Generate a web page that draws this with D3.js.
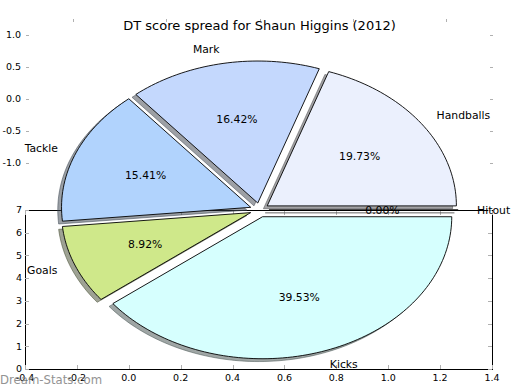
<!DOCTYPE html>
<html>
<head>
<meta charset="utf-8">
<script src="https://cdn.jsdelivr.net/npm/d3@7"></script>
<style>
body{margin:0;background:#fff;}
text{font-family:"DejaVu Sans",sans-serif;fill:#000;}
</style>
</head>
<body>
<script>
var w=520;
var h=390;

// pie data
var labels=["Handballs","Mark","Tackle","Goals","Kicks","Hitout"];
var shares=[19.73,16.42,15.41,8.92,39.53,0.00];
var colors=["#ebf0fd","#c4d8fd","#b1d3fd","#cfe88a","#d6fffe","#ffffff"];

// axis ticks
var botXTicks=[-0.4,-0.2,0.0,0.2,0.4,0.6,0.8,1.0,1.2,1.4];
var botYTicks=[0,1,2,3,4,5,6,7];
var topXTicks=[-1,-0.5,0,0.5,1];
var topYTicks=[1.0,0.5,0.0,-0.5,-1.0];

var title="DT score spread for Shaun Higgins (2012)";
var explode=0.05;

var svg=d3.select("body").append("svg")
	.attr("width",w)
	.attr("height",h);

var tickCol="#b0b0b0";

// lower axes (bar axes left behind)
var bx=d3.scaleLinear().domain([-0.4,1.4]).range([25,492]);
var by=d3.scaleLinear().domain([0,7]).range([369,210]);

// upper axes
var tx=d3.scaleLinear().domain([-1.25,1.25]).range([26,493]);
var ty=d3.scaleLinear().domain([-1.25,1.25]).range([179,19]);

// pie coords (stretched)
var px=d3.scaleLinear().domain([-1.25,1.25]).range([23,496]);
var py=d3.scaleLinear().domain([-1,1]).range([352,68]);

var g0=svg.append("g");

g0.append("rect")
	.attr("x",bx(-0.4)+0.5).attr("y",by(7)+0.5)
	.attr("width",bx(1.4)-bx(-0.4)).attr("height",by(0)-by(7))
	.attr("fill","none").attr("stroke","#000").attr("stroke-width",1);

botXTicks.forEach(function(t){
	var x=Math.round(bx(t))+0.5;
	g0.append("line").attr("x1",x).attr("x2",x).attr("y1",by(0)).attr("y2",by(0)-4).attr("stroke",tickCol);
	g0.append("line").attr("x1",x).attr("x2",x).attr("y1",by(7)+1).attr("y2",by(7)+5).attr("stroke",tickCol);
	g0.append("text").attr("x",bx(t)).attr("y",378).attr("dy","0.35em")
		.attr("text-anchor","middle").attr("font-size","9.5px").text(t.toFixed(1));
});
botYTicks.forEach(function(t){
	var y=Math.round(by(t))+0.5;
	g0.append("line").attr("x1",bx(-0.4)).attr("x2",bx(-0.4)+4).attr("y1",y).attr("y2",y).attr("stroke",tickCol);
	g0.append("line").attr("x1",bx(1.4)).attr("x2",bx(1.4)-4).attr("y1",y).attr("y2",y).attr("stroke",tickCol);
	g0.append("text").attr("x",22).attr("y",by(t)).attr("dy","0.35em")
		.attr("text-anchor","end").attr("font-size","9.5px").text(t);
});

topXTicks.forEach(function(t){
	var x=Math.round(tx(t))+0.5;
	g0.append("line").attr("x1",x).attr("x2",x).attr("y1",19).attr("y2",22).attr("stroke",tickCol);
});
topYTicks.forEach(function(t){
	var y=Math.round(ty(t))+0.5;
	g0.append("line").attr("x1",26).attr("x2",29).attr("y1",y).attr("y2",y).attr("stroke",tickCol);
	g0.append("line").attr("x1",490).attr("x2",493).attr("y1",y).attr("y2",y).attr("stroke",tickCol);
	g0.append("text").attr("x",21).attr("y",ty(t)).attr("dy","0.35em")
		.attr("text-anchor","end").attr("font-size","9.5px").text(t.toFixed(1));
});

// pie
var total=d3.sum(shares);
var cum=d3.cumsum(shares);
var slices=shares.map(function(v,i){
	var t2=360*cum[i]/total, t1=360*(cum[i]-v)/total;
	var mid=(t1+t2)/2*Math.PI/180;
	return {label:labels[i],value:v,color:colors[i],t1:t1,t2:t2,
		ox:explode*Math.cos(mid),oy:explode*Math.sin(mid),mid:mid};
});

function wedgePts(d,dx,dy){
	var pts=[[d.ox+dx,d.oy+dy]];
	var n=Math.max(2,Math.ceil((d.t2-d.t1)/1.5));
	d3.range(n+1).forEach(function(k){
		var a=(d.t1+(d.t2-d.t1)*k/n)*Math.PI/180;
		pts.push([d.ox+dx+Math.cos(a),d.oy+dy+Math.sin(a)]);
	});
	return pts;
}
var line=d3.line().x(function(p){return px(p[0]);}).y(function(p){return py(p[1]);});

var shadows=svg.append("g");
var wedges=svg.append("g");
var texts=svg.append("g");

slices.forEach(function(d){
	var c=d3.rgb(d.color);
	var sc="rgba("+Math.round(c.r*0.3)+","+Math.round(c.g*0.3)+","+Math.round(c.b*0.3)+",0.5)";
	shadows.append("path").attr("d",line(wedgePts(d,-0.02,-0.02))+"Z")
		.attr("fill",sc).attr("stroke",sc).attr("stroke-width",1);
	wedges.append("path").attr("d",line(wedgePts(d,0,0))+"Z")
		.attr("fill",d.color).attr("stroke","#000").attr("stroke-width",0.9)
		.attr("stroke-linejoin","miter");

	var lx=d.ox+1.1*Math.cos(d.mid), ly=d.oy+1.1*Math.sin(d.mid);
	texts.append("text").attr("x",px(lx)).attr("y",py(ly)).attr("dy","0.35em")
		.attr("text-anchor",lx>0?"start":"end").attr("font-size","10.8px").text(d.label);
	var qx=d.ox+0.6*Math.cos(d.mid), qy=d.oy+0.6*Math.sin(d.mid);
	texts.append("text").attr("x",px(qx)).attr("y",py(qy)).attr("dy","0.35em")
		.attr("text-anchor","middle").attr("font-size","10.8px").text(d.value.toFixed(2)+"%");
});

svg.append("text").attr("x",259.5).attr("y",25).attr("dy","0.35em")
	.attr("text-anchor","middle").attr("font-size","13px").text(title);

svg.append("text").attr("x",0).attr("y",380).attr("dy","0.35em")
	.attr("font-size","11.7px").style("fill","#888").style("opacity",0.9)
	.text("Dream-Stats.com");
</script>
</body>
</html>
